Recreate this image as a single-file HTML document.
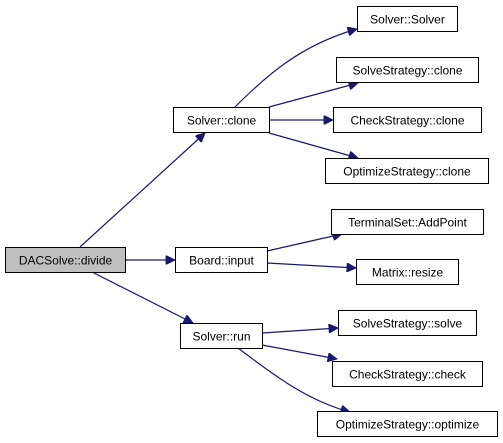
<!DOCTYPE html>
<html><head><meta charset="utf-8"><style>
html,body{margin:0;padding:0;background:#fff;width:503px;height:443px;overflow:hidden}
svg{display:block}
text{font-family:"Liberation Sans",Arial,sans-serif;font-size:12px;fill:#000}
rect{fill:#fff;stroke:#000;stroke-width:1}
path.e{fill:none;stroke:#191970;stroke-width:1.2}
</style></head><body>
<svg width="503" height="443" viewBox="0 0 503 443" xmlns="http://www.w3.org/2000/svg">
<defs><marker id="a" viewBox="0 0 10 10" refX="10" refY="5" markerWidth="12" markerHeight="9" markerUnits="userSpaceOnUse" orient="auto"><path d="M0,0 L10,5 L0,10 z" fill="#191970" stroke="#191970"/></marker></defs>
<path class="e" marker-end="url(#a)" d="M80,247 L205,133"/>
<path class="e" marker-end="url(#a)" d="M125,260 L175,260"/>
<path class="e" marker-end="url(#a)" d="M92,272 L193,323"/>
<path class="e" marker-end="url(#a)" d="M235,107 C265,77 300,45 357,29"/>
<path class="e" marker-end="url(#a)" d="M269,107 L358,83"/>
<path class="e" marker-end="url(#a)" d="M269,120 L333,120"/>
<path class="e" marker-end="url(#a)" d="M269,133 L358,158"/>
<path class="e" marker-end="url(#a)" d="M267,251 L342,234"/>
<path class="e" marker-end="url(#a)" d="M267,263 L356,268"/>
<path class="e" marker-end="url(#a)" d="M262,333 L338,328"/>
<path class="e" marker-end="url(#a)" d="M262,345 L337,359"/>
<path class="e" marker-end="url(#a)" d="M238,348 C270,372 305,400 350,412"/>
<rect x="5.5" y="247.5" width="120" height="25" style="fill:#bfbfbf"/>
<text x="65.5" y="264.5" text-anchor="middle">DACSolve::divide</text>
<rect x="173.5" y="107.5" width="96" height="25"/><text x="221.5" y="124.5" text-anchor="middle">Solver::clone</text>
<rect x="175.5" y="247.5" width="92" height="25"/><text x="221.5" y="264.5" text-anchor="middle">Board::input</text>
<rect x="180.5" y="323.5" width="82" height="25"/><text x="221.5" y="340.5" text-anchor="middle">Solver::run</text>
<rect x="357.5" y="6.5" width="100" height="25"/><text x="407.5" y="23.5" text-anchor="middle">Solver::Solver</text>
<rect x="336.5" y="57.5" width="142" height="25"/><text x="407.5" y="74.5" text-anchor="middle">SolveStrategy::clone</text>
<rect x="333.5" y="107.5" width="148" height="25"/><text x="407.5" y="124.5" text-anchor="middle">CheckStrategy::clone</text>
<rect x="325.5" y="158.5" width="163" height="25"/><text x="407" y="175.5" text-anchor="middle">OptimizeStrategy::clone</text>
<rect x="331.5" y="209.5" width="152" height="25"/><text x="407.5" y="226.5" text-anchor="middle">TerminalSet::AddPoint</text>
<rect x="356.5" y="259.5" width="102" height="25"/><text x="407.5" y="276.5" text-anchor="middle">Matrix::resize</text>
<rect x="338.5" y="310.5" width="138" height="25"/><text x="407.5" y="327.5" text-anchor="middle">SolveStrategy::solve</text>
<rect x="332.5" y="361.5" width="150" height="25"/><text x="407.5" y="378.5" text-anchor="middle">CheckStrategy::check</text>
<rect x="317.5" y="411.5" width="180" height="25"/><text x="407.5" y="428.5" text-anchor="middle">OptimizeStrategy::optimize</text>
</svg>
</body></html>
